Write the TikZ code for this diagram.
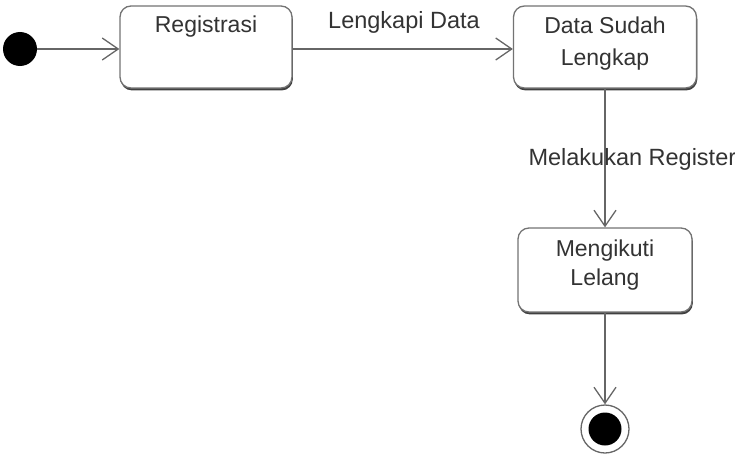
\documentclass[tikz,border=0pt]{standalone}
\usepackage{fontspec}
\setmainfont{Liberation Sans}
\usetikzlibrary{arrows.meta,shadows}
\begin{document}
\begin{tikzpicture}[x=1pt,y=-1pt,
  statebox/.style={draw=black!55, line width=1.3pt, rounded corners=11pt, fill=white,
    drop shadow={shadow xshift=0.8pt, shadow yshift=-2.4pt, fill=black!75, opacity=1}},
  txt/.style={font=\fontsize{23}{32}\selectfont, text=black!80, align=center},
  conn/.style={draw=black!60, line width=1.6pt, -{Straight Barb[length=16pt,width=22pt,line width=1.3pt]}},
  lbl/.style={font=\fontsize{23.5}{26}\selectfont, text=black!80}]
\useasboundingbox (0,0) rectangle (735,460);
% states
\node[statebox, minimum width=172pt, minimum height=82pt] (reg) at (206,47) {};
\node[txt] (regt) at (206,27) {Registrasi};
\node[statebox, minimum width=183pt, minimum height=82pt] (dsl) at (605,47) {};
\node[txt] (dslt) at (605,44) {Data Sudah\\Lengkap};
\node[statebox, minimum width=174pt, minimum height=84pt] (ml) at (605,270) {};
\node[txt, font=\fontsize{23}{29}\selectfont] (mlt) at (605,265) {Mengikuti\\Lelang};
% initial / final
\node[circle, fill=black, minimum size=34pt, inner sep=0pt] (init) at (20,49) {};
\node[circle, draw=black!60, line width=1.3pt, fill=white, minimum size=48pt, inner sep=0pt] (fin) at (605,429) {};
\node[circle, fill=black, minimum size=33pt, inner sep=0pt] (finin) at (605,429) {};
% connectors
\draw[conn] (init) -- (reg.west |- init);
\draw[conn] (reg.east |- 0,49) -- (dsl.west |- 0,49);
\node[lbl] (l1) at (404,22) {Lengkapi Data};
\draw[conn] (dsl.south) -- (ml.north);
\node[lbl, anchor=west] (l2) at (525,159) {Melakukan Register};
\draw[conn] (ml.south) -- (fin.north);
\end{tikzpicture}
\end{document}
